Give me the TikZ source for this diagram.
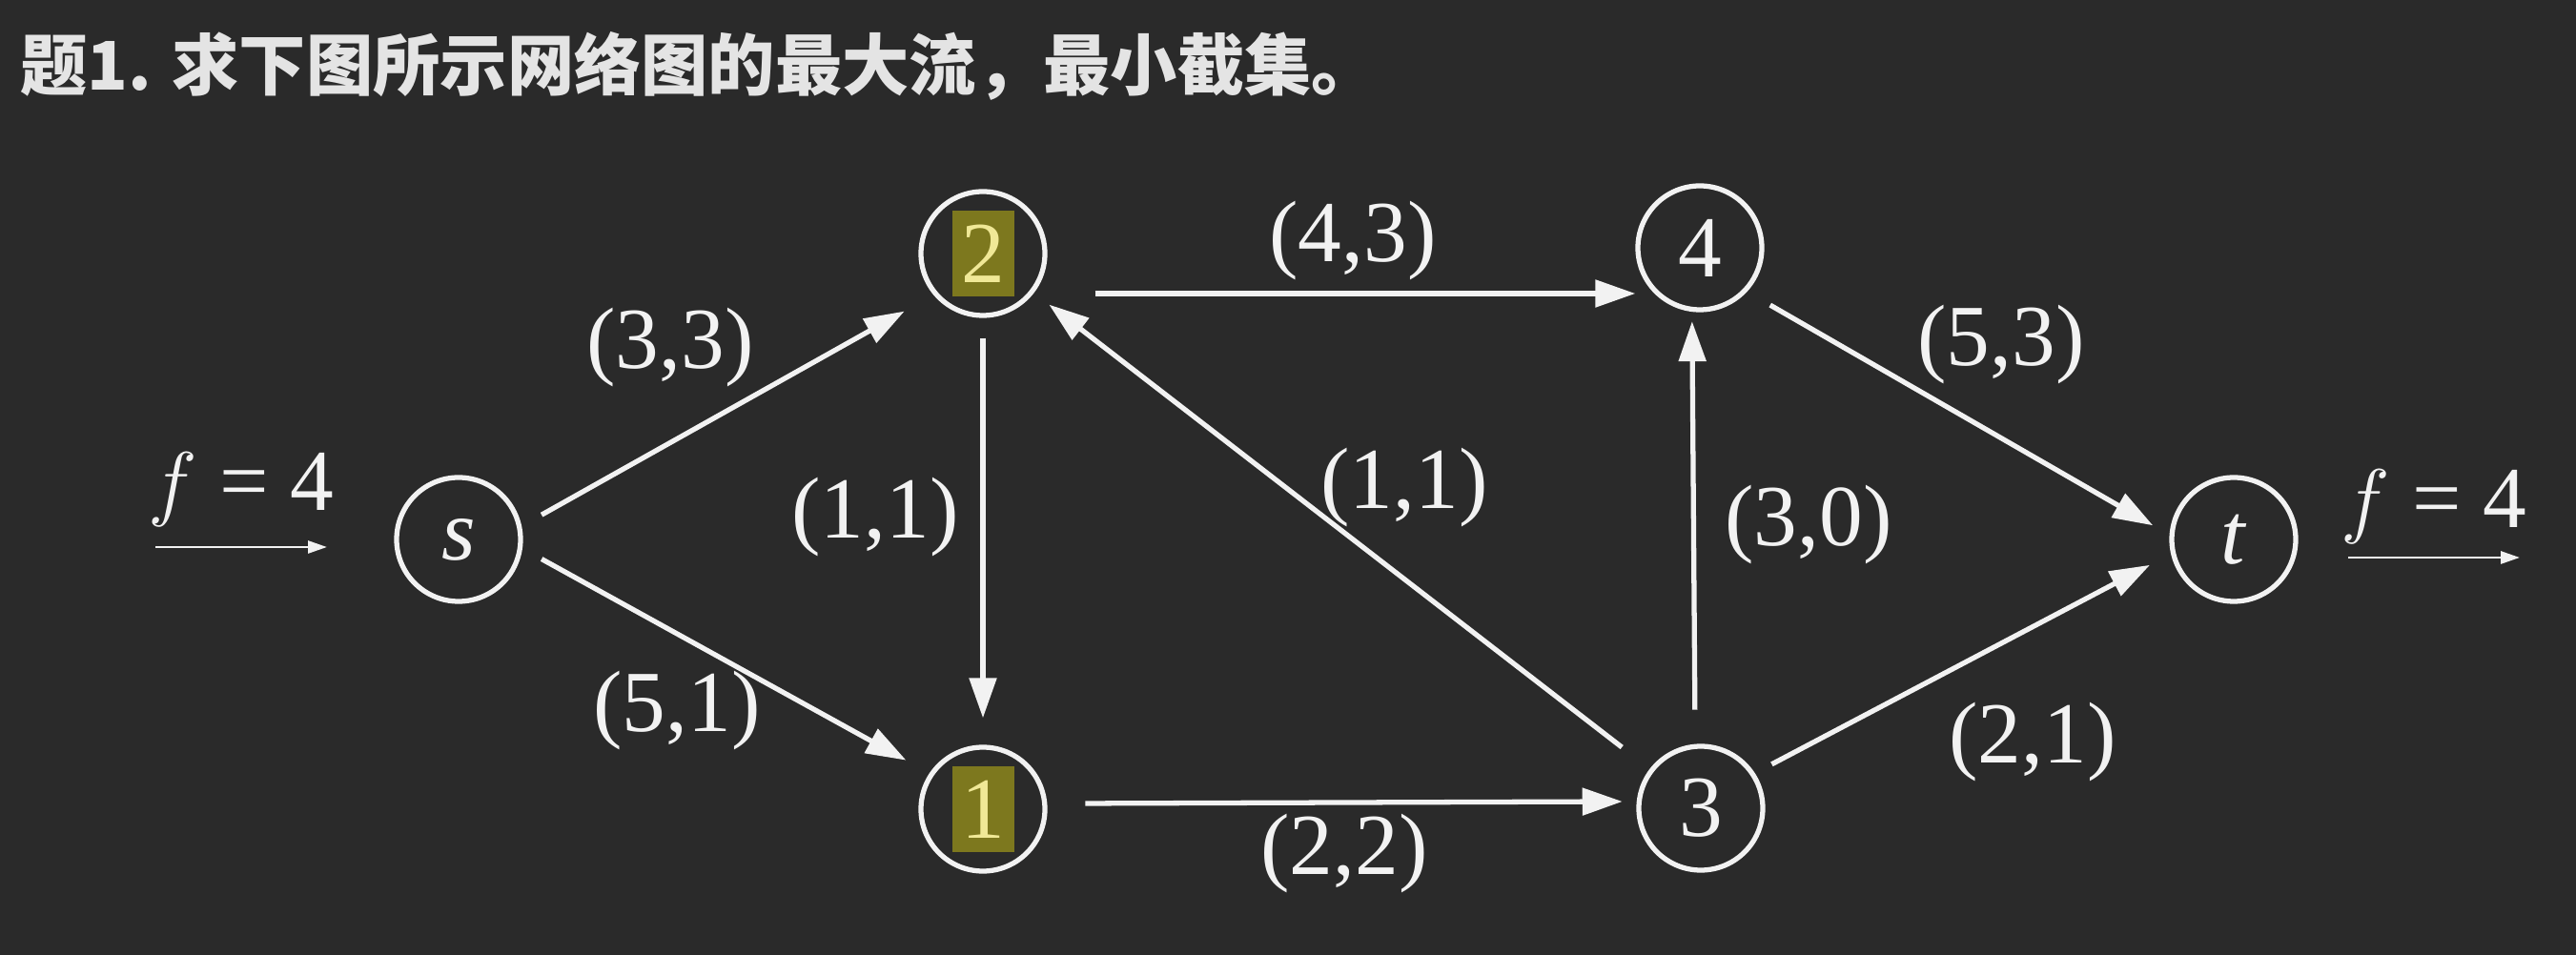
\documentclass[tikz,border=0pt]{standalone}
\usepackage{fontspec}
\setmainfont{Liberation Serif}
\newfontfamily\cjk{Noto Sans CJK SC}
\usetikzlibrary{arrows.meta}

\definecolor{board}{RGB}{42,42,42}
\definecolor{chalk}{RGB}{242,242,242}
\definecolor{olivebox}{RGB}{125,120,30}
\definecolor{lemon}{RGB}{240,232,150}

\begin{document}
\begin{tikzpicture}[
  every node/.style={text=chalk, font=\fontsize{26}{30}\selectfont},
  vert/.style={draw=chalk, circle, line width=1.5pt, minimum size=1.3cm, inner sep=0pt},
  hilite/.style={fill=olivebox, text=lemon, minimum width=0.65cm, minimum height=0.9cm, inner sep=0pt},
  link/.style={draw=chalk, line width=1.5pt, -{Triangle[length=4.2mm,width=2.8mm]}},
  farrow/.style={draw=chalk, line width=0.8pt, -{Triangle[length=2mm,width=1.3mm]}}
]
\fill[board] (0,0) rectangle (27.02,10.02);

\node[anchor=west, text={rgb,255:red,228;green,228;blue,228}, font=\cjk\bfseries\fontsize{20}{24}\selectfont] (title) at (0.09,9.33) {题1. 求下图所示网络图的最大流，最小截集。};

% vertices
\node[vert] (s) at (4.81,4.36) {\textit{s}};
\node[vert] (v2) at (10.31,7.36) {};
\node[hilite] (h2) at (v2) {2};
\node[vert] (v1) at (10.31,1.53) {};
\node[hilite] (h1) at (v1) {1};
\node[vert] (v4) at (17.83,7.42) {4};
\node[vert] (v3) at (17.84,1.54) {3};
\node[vert] (t) at (23.43,4.36) {\textit{t}};

% arcs
\draw[link, shorten <=2.4mm, shorten >=3.5mm] (s.12) -- (v2.220);
\draw[link, shorten <=2.3mm, shorten >=2.8mm] (s.-8) -- (v1.146);
\draw[link, shorten <=2.1mm, shorten >=2.8mm] (v2) -- (v1);
\draw[link] ([shift={(0.5,-0.42)}]v2.east) -- ([shift={(0,-0.48)}]v4.west);
\draw[link, shorten <=4mm, shorten >=1.5mm] (v1.5) -- (v3.174);
\draw[link, shorten <=3.6mm, shorten >=1mm] (v3.95) -- (v4.263);
\draw[link, shorten <=3.7mm, shorten >=2mm] (v3) -- (v2);
\draw[link, shorten <=2.8mm, shorten >=2mm] (v4.-43) -- (t.176);
\draw[link, shorten <=2mm, shorten >=2.5mm] (v3.33) -- (t.193);

% capacities and flows
\node (l12) at (7.03,6.37) {(3,3)};
\node (l11) at (7.10,2.56) {(5,1)};
\node (l21) at (9.18,4.59) {(1,1)};
\node (l24) at (14.19,7.49) {(4,3)};
\node (l32) at (14.73,4.90) {(1,1)};
\node (l13) at (14.10,1.06) {(2,2)};
\node (l34) at (18.97,4.51) {(3,0)};
\node (l4t) at (20.99,6.40) {(5,3)};
\node (l3t) at (21.32,2.23) {(2,1)};

% total flow
\node (fin) at (2.53,4.88) {$f$ = 4};
\coordinate (fina) at (1.63,4.28);
\coordinate (finb) at (3.43,4.28);
\draw[farrow] (fina) -- (finb);
\node (fout) at (25.53,4.70) {$f$ = 4};
\coordinate (fouta) at (24.63,4.17);
\coordinate (foutb) at (26.43,4.17);
\draw[farrow] (fouta) -- (foutb);
\end{tikzpicture}
\end{document}
